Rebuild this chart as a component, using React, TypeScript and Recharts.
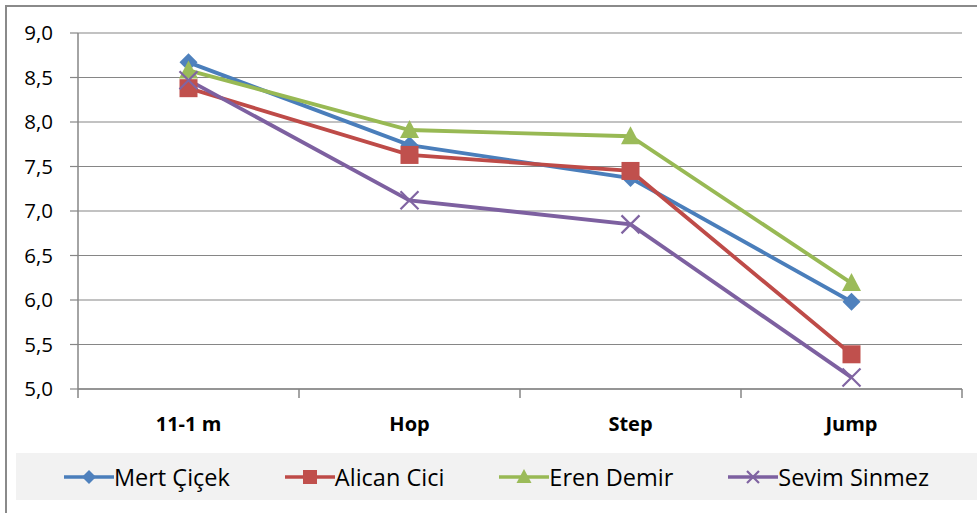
import { CartesianGrid, Legend, Line, LineChart, XAxis, YAxis } from "recharts";

const categories = ["11-1 m", "Hop", "Step", "Jump"];
const mertCicek = [8.67, 7.74, 7.37, 5.98];
const alicanCici = [8.38, 7.63, 7.45, 5.39];
const erenDemir = [8.58, 7.91, 7.84, 6.19];
const sevimSinmez = [8.47, 7.12, 6.85, 5.13];
const yTicks = [5, 5.5, 6, 6.5, 7, 7.5, 8, 8.5, 9];

const data = categories.map((name, i) => ({
  name,
  mert: mertCicek[i],
  alican: alicanCici[i],
  eren: erenDemir[i],
  sevim: sevimSinmez[i],
}));

const W = 977;
const H = 513;
const LEFT = 78;
const RIGHT = 15;
const BAND = (W - LEFT - RIGHT) / categories.length;
const FONT = "'Open Sans', Lato, sans-serif";
const GRID = "#868686";

type Shape = "diamond" | "square" | "triangle" | "cross";

const series: { key: string; name: string; line: string; fill: string; shape: Shape }[] = [
  { key: "mert", name: "Mert Çiçek", line: "#4A7EBB", fill: "#4F81BD", shape: "diamond" },
  { key: "alican", name: "Alican Cici", line: "#BE4B48", fill: "#C0504D", shape: "square" },
  { key: "eren", name: "Eren Demir", line: "#98B954", fill: "#9BBB59", shape: "triangle" },
  { key: "sevim", name: "Sevim Sinmez", line: "#7D60A0", fill: "#8064A2", shape: "cross" },
];

function Marker({ cx, cy, shape, color, r = 9 }: { cx: number; cy: number; shape: Shape; color: string; r?: number }) {
  if (shape === "diamond")
    return <path d={`M${cx},${cy - r} L${cx + r},${cy} L${cx},${cy + r} L${cx - r},${cy} Z`} fill={color} />;
  if (shape === "square")
    return <rect x={cx - r} y={cy - r} width={r * 2} height={r * 2} fill={color} />;
  if (shape === "triangle")
    return <path d={`M${cx},${cy - r - 1} L${cx + r + 0.5},${cy + r - 1} L${cx - r - 0.5},${cy + r - 1} Z`} fill={color} />;
  return (
    <path
      d={`M${cx - r},${cy - r} L${cx + r},${cy + r} M${cx - r},${cy + r} L${cx + r},${cy - r}`}
      stroke={color}
      strokeWidth={2.2}
      fill="none"
    />
  );
}

function XTick(props: any) {
  const { x, y, payload, index } = props;
  const left = x - BAND / 2;
  return (
    <g>
      <line x1={left} y1={y} x2={left} y2={y + 9} stroke={GRID} strokeWidth={1.5} />
      {index === categories.length - 1 && (
        <line x1={x + BAND / 2} y1={y} x2={x + BAND / 2} y2={y + 9} stroke={GRID} strokeWidth={1.5} />
      )}
      <text x={x} y={y + 42} textAnchor="middle" fontFamily={FONT} fontSize={20} fontWeight="bold" fill="#000">
        {payload.value}
      </text>
    </g>
  );
}

function LegendBox() {
  return (
    <div
      style={{
        height: 47,
        background: "#F2F2F2",
        display: "flex",
        alignItems: "center",
        justifyContent: "center",
        gap: 55,
        fontFamily: FONT,
        fontSize: 23.5,
        color: "#000",
      }}
    >
      {series.map((s) => (
        <div key={s.key} style={{ display: "flex", alignItems: "center" }}>
          <svg width={50} height={20}>
            <line x1={0} y1={10} x2={50} y2={10} stroke={s.line} strokeWidth={3.5} />
            <Marker cx={25} cy={10} shape={s.shape} color={s.fill} r={s.shape === "cross" ? 6 : 7} />
          </svg>
          <span>{s.name}</span>
        </div>
      ))}
    </div>
  );
}

export default function App() {
  return (
    <div style={{ position: "absolute", left: 0, top: 0, width: W, height: H, background: "#fff" }}>
      <div
        style={{
          position: "absolute",
          left: 5,
          top: 5,
          right: 0,
          bottom: 0,
          borderLeft: "2px solid #8a8a8a",
          borderTop: "2px solid #8a8a8a",
        }}
      />
      <LineChart width={W} height={H} data={data} margin={{ top: 33, right: RIGHT, left: 0, bottom: 13 }}>
        <CartesianGrid vertical={false} stroke={GRID} strokeWidth={1.2} />
        <XAxis
          dataKey="name"
          height={64}
          padding={{ left: BAND / 2, right: BAND / 2 }}
          tickSize={0}
          tickMargin={0}
          tickLine={false}
          axisLine={{ stroke: GRID, strokeWidth: 1.5 }}
          tick={<XTick />}
          interval={0}
        />
        <YAxis
          width={LEFT}
          domain={[5, 9]}
          ticks={yTicks}
          tickSize={8}
          tickMargin={17}
          tickLine={{ stroke: GRID, strokeWidth: 1.2 }}
          axisLine={{ stroke: GRID, strokeWidth: 1.5 }}
          tick={{ fontFamily: FONT, fontSize: 20.5, fill: "#000" }}
          tickFormatter={(v: number) => v.toFixed(1).replace(".", ",")}
        />
        <Legend
          verticalAlign="bottom"
          content={<LegendBox />}
          wrapperStyle={{ left: 16, width: W - 16 }}
        />
        {series.map((s) => (
          <Line
            key={s.key}
            dataKey={s.key}
            name={s.name}
            type="linear"
            stroke={s.line}
            strokeWidth={3.8}
            isAnimationActive={false}
            activeDot={false}
            dot={(p: any) => <Marker key={`${s.key}-${p.index}`} cx={p.cx} cy={p.cy} shape={s.shape} color={s.fill} />}
          />
        ))}
      </LineChart>
    </div>
  );
}
